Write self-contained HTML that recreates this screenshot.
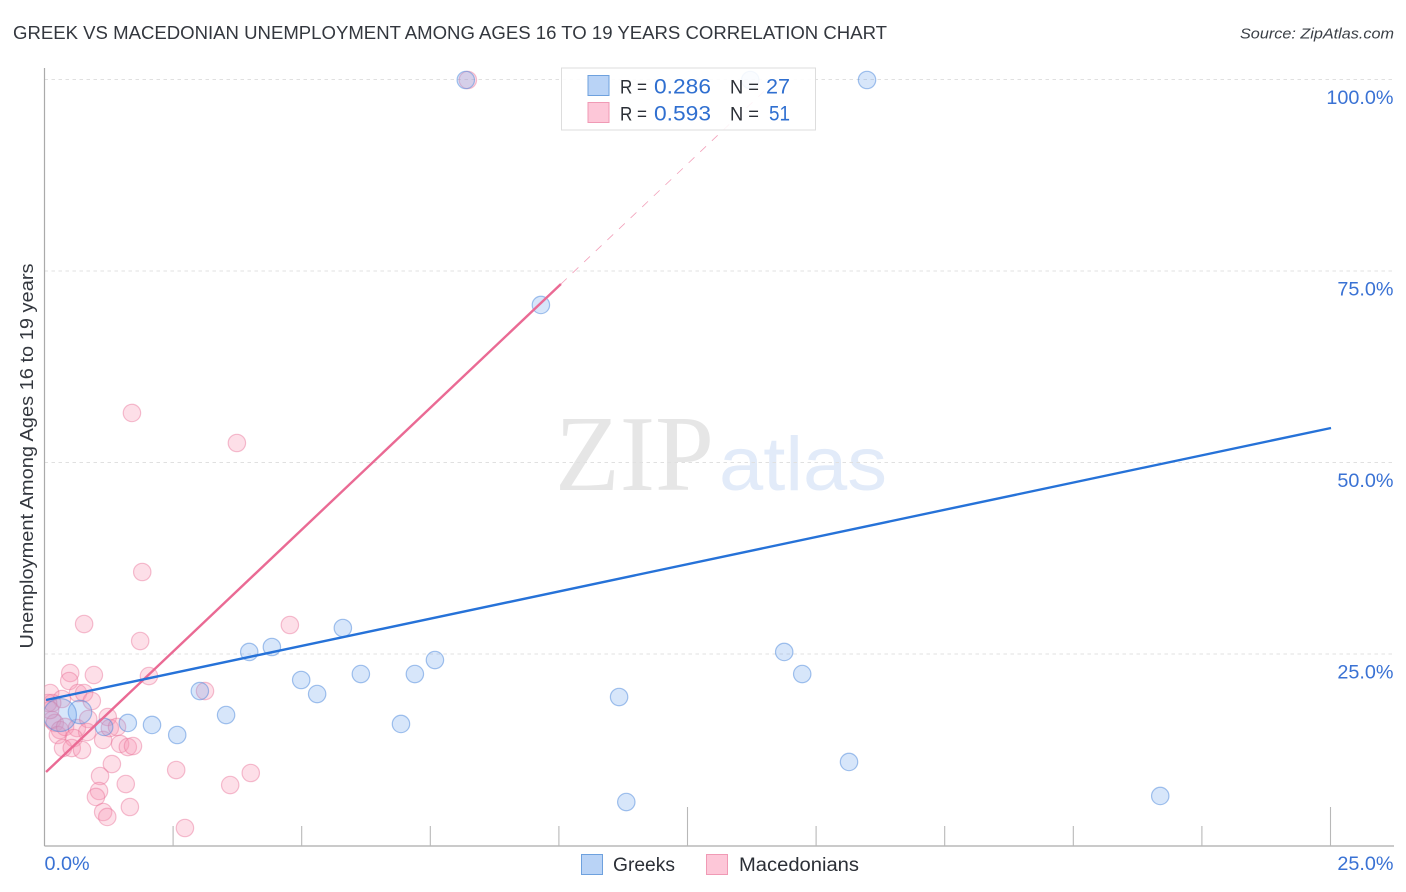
<!DOCTYPE html>
<html>
<head>
<meta charset="utf-8">
<title>Greek vs Macedonian Unemployment Chart</title>
<style>
html,body{margin:0;padding:0;background:#fff;}
svg{display:block;}
text{font-family:"Liberation Sans",sans-serif;}
</style>
</head>
<body>
<svg id="chart" width="1406" height="892" viewBox="0 0 1406 892" xmlns="http://www.w3.org/2000/svg">
  <defs>
    <clipPath id="plot-clip"><rect x="44.5" y="60" width="1350" height="786"></rect></clipPath>
  </defs>
  <rect width="1406" height="892" fill="#fff"></rect>
  <text x="13" y="39" font-size="18" fill="#33373e" textLength="874" lengthAdjust="spacingAndGlyphs">GREEK VS MACEDONIAN UNEMPLOYMENT AMONG AGES 16 TO 19 YEARS CORRELATION CHART</text>
  <text x="1394" y="38.5" font-size="15" font-style="italic" fill="#3a3f46" text-anchor="end" textLength="154" lengthAdjust="spacingAndGlyphs">Source: ZipAtlas.com</text>

  <g>
    <text x="555" y="490" font-size="108" fill="#e6e6e6" textLength="159" lengthAdjust="spacingAndGlyphs" style="font-family:'Liberation Serif',serif;">ZIP</text>
    <text x="719" y="490" font-size="76" fill="#e2ebf9" textLength="168" lengthAdjust="spacingAndGlyphs">atlas</text>
  </g>

  <g id="grid"></g>
  <g id="axes"></g>
  <g id="marks" clip-path="url(#plot-clip)"></g>
  <g id="lines"></g>
  <g id="labels"></g>

  <text transform="translate(33 456) rotate(-90)" font-size="18" fill="#33373e" text-anchor="middle" textLength="385" lengthAdjust="spacingAndGlyphs">Unemployment Among Ages 16 to 19 years</text>

  <g>
    <rect x="561.5" y="68" width="254" height="62" fill="#fff" fill-opacity="0.88" stroke="#dddddd" stroke-width="1"></rect>
    <rect x="588" y="75.5" width="21" height="20" fill="#b9d3f6" stroke="#6ea1de" stroke-width="1"></rect>
    <rect x="588" y="102.5" width="21" height="20" fill="#fdc7d8" stroke="#f09ab5" stroke-width="1"></rect>
    <text x="620" y="93.5" font-size="19.5" fill="#2b2f36" textLength="27" lengthAdjust="spacingAndGlyphs">R =</text>
    <text x="654" y="93.5" font-size="21" fill="#2f6fd0" textLength="57" lengthAdjust="spacingAndGlyphs">0.286</text>
    <text x="730" y="93.5" font-size="19.5" fill="#2b2f36" textLength="29" lengthAdjust="spacingAndGlyphs">N =</text>
    <text x="766" y="93.5" font-size="21" fill="#2f6fd0" textLength="24" lengthAdjust="spacingAndGlyphs">27</text>
    <text x="620" y="120.5" font-size="19.5" fill="#2b2f36" textLength="27" lengthAdjust="spacingAndGlyphs">R =</text>
    <text x="654" y="120.5" font-size="21" fill="#2f6fd0" textLength="57" lengthAdjust="spacingAndGlyphs">0.593</text>
    <text x="730" y="120.5" font-size="19.5" fill="#2b2f36" textLength="29" lengthAdjust="spacingAndGlyphs">N =</text>
    <text x="769" y="120.5" font-size="21" fill="#2f6fd0" textLength="21" lengthAdjust="spacingAndGlyphs">51</text>
  </g>

  <g>
    <rect x="581.5" y="854.5" width="21" height="20" fill="#b9d3f6" stroke="#6ea1de" stroke-width="1"></rect>
    <text x="613" y="871" font-size="19" fill="#2b2f36" textLength="62" lengthAdjust="spacingAndGlyphs">Greeks</text>
    <rect x="706.5" y="854.5" width="21" height="20" fill="#fdc7d8" stroke="#f09ab5" stroke-width="1"></rect>
    <text x="739" y="871" font-size="19" fill="#2b2f36" textLength="120" lengthAdjust="spacingAndGlyphs">Macedonians</text>
  </g>
</svg>
<script>
// Axis ticks and labels
const xTickValues = [2.5, 5, 7.5, 10, 12.5, 15, 17.5, 20, 22.5, 25];
const xMajorTicks = [12.5, 25];
const xTickLabels = ["0.0%", "25.0%"];
const xLabelValues = [0, 25];
const yTickValues = [25, 50, 75, 100];
const yTickLabels = ["25.0%", "50.0%", "75.0%", "100.0%"];

// Greeks series (percent values)
const greeksX = [8.19, 13.72, 15.99, 9.65, 3.98, 4.42, 5.80, 4.99, 5.30, 6.15, 7.20, 7.59, 3.02, 3.53, 6.93, 11.17, 14.38, 14.73, 15.64, 21.69, 11.31, 2.09, 2.58, 1.62, 1.16, 0.69, 0.30];
const greeksY = [100, 100, 100, 70.63, 25.33, 25.98, 28.46, 21.67, 19.84, 22.45, 22.45, 24.28, 20.23, 17.10, 15.93, 19.45, 25.33, 22.45, 10.97, 6.53, 5.74, 15.80, 14.49, 16.06, 15.54, 17.49, 17.10];
const greeksWeight = [1, 1, 1, 1, 1, 1, 1, 1, 1, 1, 1, 1, 1, 1, 1, 1, 1, 1, 1, 1, 1, 1, 1, 1, 1, 1.35, 1.9];

// Macedonians series (percent values)
const macedoniansX = [8.23, 1.70, 3.74, 1.90, 0.77, 1.86, 4.77, 0.50, 0.48, 0.96, 2.03, 3.12, 0.11, 0.34, 0.65, 0.77, 0.92, 0.15, 0.15, 0.20, 0.30, 0.26, 0.40, 0.63, 0.85, 1.23, 0.83, 0.57, 0.36, 0.53, 0.73, 1.14, 1.27, 1.41, 1.47, 1.62, 1.72, 1.31, 1.08, 1.58, 1.06, 1.00, 1.66, 1.14, 1.22, 2.56, 3.61, 4.01, 2.73, 0.07, 0.11];
const macedoniansY = [100, 56.53, 52.61, 35.77, 28.98, 26.76, 28.85, 22.58, 21.54, 22.32, 22.19, 20.23, 19.97, 19.19, 19.97, 19.97, 18.93, 18.67, 16.45, 16.06, 15.14, 14.49, 15.54, 15.40, 16.58, 16.84, 14.88, 14.10, 12.79, 12.79, 12.53, 13.84, 15.40, 15.54, 13.32, 12.92, 13.05, 10.70, 9.14, 8.09, 7.18, 6.40, 5.09, 4.44, 3.79, 9.92, 7.96, 9.53, 2.35, 18.67, 17.75];

// Trend lines (percent values)
const greeksTrendX = [0.03, 25.01];
const greeksTrendY = [19.06, 54.57];
const macedoniansTrendX = [0.03, 10.04];
const macedoniansTrendY = [9.66, 73.37];
const macedoniansExtensionX = [10.04, 14.22];
const macedoniansExtensionY = [73.37, 100];

const NS = "http://www.w3.org/2000/svg";
const PLOT_LEFT = 44.5, PLOT_RIGHT = 1330.5, PLOT_TOP = 80, PLOT_BOTTOM = 846, EDGE_RIGHT = 1394;
const X_MAX = 25, Y_MAX = 100;
function scaleX(v) { return PLOT_LEFT + (v / X_MAX) * (PLOT_RIGHT - PLOT_LEFT); }
function scaleY(v) { return PLOT_BOTTOM - (v / Y_MAX) * (PLOT_BOTTOM - PLOT_TOP); }
function make(tag, attrs, parent) {
  const el = document.createElementNS(NS, tag);
  for (const k in attrs) el.setAttribute(k, attrs[k]);
  parent.appendChild(el);
  return el;
}

const grid = document.getElementById("grid");
const axes = document.getElementById("axes");
const marks = document.getElementById("marks");
const lines = document.getElementById("lines");
const labels = document.getElementById("labels");

yTickValues.forEach(function (v, i) {
  const g = make("line", { x1: PLOT_LEFT, x2: EDGE_RIGHT, y1: scaleY(v) - 0.5, y2: scaleY(v) - 0.5, stroke: "#e0e0e0", "stroke-width": 0.9, "stroke-dasharray": "3.5 3.5" }, grid);
  
  
  const t = make("text", { x: 1393.5, y: scaleY(v) + 24, "font-size": 19.8, fill: "#3a72d4", "text-anchor": "end" }, labels);
  t.textContent = yTickLabels[i];
  
  
});

const yAxis = make("line", { x1: PLOT_LEFT, x2: PLOT_LEFT, y1: 68, y2: PLOT_BOTTOM, stroke: "#aaaaaa", "stroke-width": 1.2 }, axes);


const xAxis = make("line", { x1: PLOT_LEFT, x2: EDGE_RIGHT, y1: PLOT_BOTTOM, y2: PLOT_BOTTOM, stroke: "#aaaaaa", "stroke-width": 1.2 }, axes);



xTickValues.forEach(function (v) {
  const major = xMajorTicks.indexOf(v) >= 0;
  const tick = make("line", { x1: scaleX(v), x2: scaleX(v), y1: major ? 807 : 826, y2: PLOT_BOTTOM, stroke: "#b8b8b8", "stroke-width": 1.1 }, axes);
  
  
});

xLabelValues.forEach(function (v, i) {
  const t = make("text", { x: i === 0 ? scaleX(v) : 1393.5, y: 870, "font-size": 19.8, fill: "#3a72d4", "text-anchor": i === 0 ? "start" : "end" }, labels);
  t.textContent = xTickLabels[i];
  
  
});

macedoniansX.forEach(function (x, i) {
  const c = make("circle", { cx: scaleX(x), cy: scaleY(macedoniansY[i]), r: 8.7, fill: "rgba(247,150,178,0.3)", stroke: "rgba(232,115,152,0.45)", "stroke-width": 1.2 }, marks);
  
  
});
greeksX.forEach(function (x, i) {
  const c = make("circle", { cx: scaleX(x), cy: scaleY(greeksY[i]), r: 8.7 * greeksWeight[i], fill: "rgba(110,165,238,0.28)", stroke: "rgba(75,135,220,0.5)", "stroke-width": 1.2 }, marks);
  
  
});

const ext = make("line", { x1: scaleX(macedoniansExtensionX[0]), y1: scaleY(macedoniansExtensionY[0]), x2: scaleX(macedoniansExtensionX[1]), y2: scaleY(macedoniansExtensionY[1]), stroke: "#ee7fa2", "stroke-width": 0.8, "stroke-dasharray": "8 8", "stroke-opacity": 0.75 }, lines);


const mt = make("line", { x1: scaleX(macedoniansTrendX[0]), y1: scaleY(macedoniansTrendY[0]), x2: scaleX(macedoniansTrendX[1]), y2: scaleY(macedoniansTrendY[1]), stroke: "#ea6a94", "stroke-width": 2.4 }, lines);


const gt = make("line", { x1: scaleX(greeksTrendX[0]), y1: scaleY(greeksTrendY[0]), x2: scaleX(greeksTrendX[1]), y2: scaleY(greeksTrendY[1]), stroke: "#2672d8", "stroke-width": 2.4 }, lines);


</script>
</body>
</html>
